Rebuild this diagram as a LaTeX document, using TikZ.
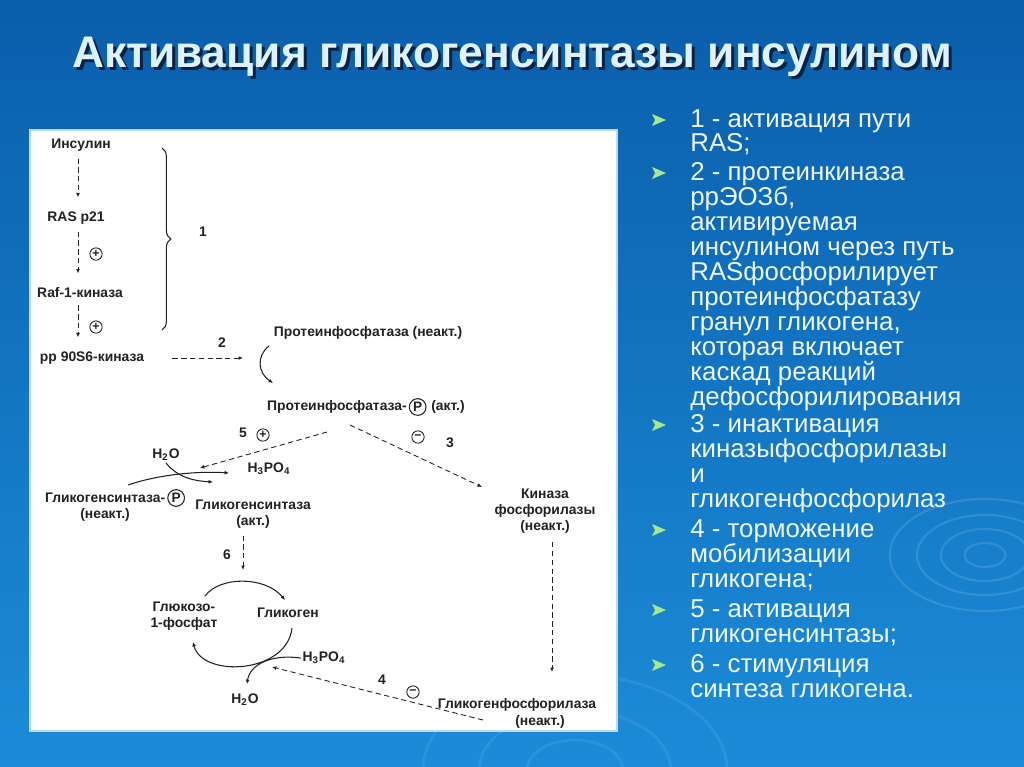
\documentclass[tikz,border=0pt]{standalone}
\usepackage{fontspec}
\setmainfont{Liberation Sans}
\usepackage{tikz}
\usetikzlibrary{arrows.meta, positioning, decorations.pathreplacing}
\definecolor{bgtop}{HTML}{0A5EAC}
\definecolor{bgbottom}{HTML}{1C8CD8}
\definecolor{titlecol}{HTML}{DDF1FF}
\definecolor{titledark}{HTML}{0A2340}
\definecolor{listcol}{HTML}{EEF6FF}
\definecolor{bulletgreen}{HTML}{A6E88A}
\definecolor{inkgray}{HTML}{222222}
\definecolor{paneledge}{HTML}{BFD9EE}

\tikzset{
  lbl/.style={font=\fontsize{7.9}{9}\selectfont\bfseries, text=inkgray, inner sep=1pt, align=center},
  signcirc/.style={circle, draw=inkgray, line width=0.5pt, inner sep=0pt, minimum size=7pt, font=\fontsize{7}{7}\selectfont\bfseries, text=inkgray},
  pcirc/.style={circle, draw=inkgray, line width=0.6pt, inner sep=0pt, minimum size=9.5pt, font=\fontsize{7.8}{8}\selectfont\bfseries, text=inkgray},
  dasharrow/.style={draw=inkgray, line width=0.5pt, dash pattern=on 3pt off 2pt, -{Latex[length=2.5pt,width=2.2pt]}},
  solidarrow/.style={draw=inkgray, line width=0.6pt, -{Latex[length=2.5pt,width=2.2pt]}},
  listitem/.style={anchor=base west, text=listcol, align=left, inner sep=0pt, font=\fontsize{14.7}{14.2}\selectfont},
}

\begin{document}
\begin{tikzpicture}[x=0.02cm, y=-0.02cm]
    % Background
    \shade[top color=bgtop, bottom color=bgbottom] (0,0) rectangle (1024,767);
    \useasboundingbox (0,0) rectangle (1024,767);
    \foreach \r in {12,26,40,56}
        \draw[white, opacity=0.12, line width=1.2pt] (985,555) ellipse ({\r*1.7} and \r);
    \foreach \r in {30,60,95}
        \draw[white, opacity=0.08, line width=1.5pt] (575,770) ellipse ({\r*1.6} and \r);

    % Title
    \node[font=\fontsize{25.2}{28}\selectfont\bfseries, text=titledark] (titleshade) at (515,60) {Активация гликогенсинтазы инсулином};
    \node[font=\fontsize{25.2}{28}\selectfont\bfseries, text=titlecol] (title) at (512,57) {Активация гликогенсинтазы инсулином};

    % Panel
    \draw[fill=white, draw=paneledge, line width=1pt] (30,130) rectangle (617,731);

    % Insulin cascade
    \coordinate (col) at (78,0);
    \node[lbl] (ins) at (81,145) {Инсулин};
    \node[lbl] (ras) at (76,218) {RAS p21};
    \node[lbl] (raf) at (80,293) {Raf-1-киназа};
    \node[lbl] (rsk) at (92,358) {pp 90S6-киназа};
    \draw[dasharrow, shorten <=3pt, shorten >=7pt] (ins.south -| col) -- (ras.north -| col);
    \draw[dasharrow, shorten <=3pt, shorten >=7pt] (ras.south -| col) -- (raf.north -| col);
    \draw[dasharrow, shorten <=3pt, shorten >=7pt] (raf.south -| col) -- (rsk.north -| col);
    \node[signcirc] (plus1) at (96,254) {+};
    \node[signcirc] (plus2) at (96,327) {+};
    \draw[inkgray, line width=0.6pt, decorate, decoration={brace, amplitude=5pt}] (162,148) -- (162,330);
    \node[lbl] (n1) at (203,232) {1};

    % Step 2
    \node[lbl] (n2) at (222,343) {2};
    \coordinate (a2end) at (243,358);
    \draw[dasharrow, shorten <=15pt] (rsk.east) -- (a2end);
    \node[lbl] (ppin) at (368,333) {Протеинфосфатаза (неакт.)};
    \node[lbl, anchor=west] (ppa) at (265,407) {Протеинфосфатаза-};
    \node[pcirc, right=0pt of ppa] (ppap) {P};
    \node[lbl, right=1.5pt of ppap] (ppaa) {(акт.)};
    \coordinate (c2s) at (269,346);
    \coordinate (c2e) at (273,383);
    \draw[solidarrow] (c2s) .. controls (256,356) and (258,373) .. (c2e);

    % Step 5
    \node[lbl] (n5) at (243,433) {5};
    \node[signcirc] (plus5) at (263,435) {+};
    \node[lbl] (h2o) at (166,455) {H\textsubscript{2}O};
    \node[lbl] (h3po4) at (269,469) {H\textsubscript{3}PO\textsubscript{4}};
    \coordinate (s5) at (327,432);
    \coordinate (e5) at (200,468);
    \draw[dasharrow] (s5) -- (e5);
    \coordinate (w5) at (213,482);
    \draw[solidarrow] (h2o.south) .. controls (178,478) and (195,481) .. (w5);
    \coordinate (g5s) at (128,485);
    \coordinate (g5e) at (229,473);
    \draw[solidarrow] (g5s) .. controls (160,474) and (200,471) .. (g5e);
    \node[lbl, anchor=west] (gsp) at (43,498) {Гликогенсинтаза-};
    \node[pcirc, right=0pt of gsp] (gspp) {P};
    \node[lbl] (gspn) at (105,515) {(неакт.)};
    \node[lbl] (gsa) at (253,514) {Гликогенсинтаза\\(акт.)};

    % Step 6
    \node[lbl] (n6) at (227,555) {6};
    \coordinate (a6e) at (243,570);
    \draw[dasharrow, shorten <=3pt] (gsa.south -| a6e) -- (a6e);
    \node[lbl] (g1p) at (184,616) {Глюкозо-\\1-фосфат};
    \node[lbl] (glyc) at (288,613) {Гликоген};
    \coordinate (t6s) at (205,596);
    \coordinate (t6e) at (285,600);
    \draw[solidarrow] (t6s) .. controls (220,576) and (265,576) .. (t6e);
    \coordinate (b6s) at (292,628);
    \coordinate (b6e) at (193,642);
    \draw[solidarrow] (b6s) .. controls (287,674) and (202,678) .. (b6e);
    \node[lbl] (h3po4b) at (324,658) {H\textsubscript{3}PO\textsubscript{4}};
    \node[lbl] (h2ob) at (245,700) {H\textsubscript{2}O};
    \coordinate (p6e) at (247,684);
    \draw[solidarrow] (h3po4b.west) .. controls (272,654) and (250,664) .. (p6e);

    % Step 3
    \coordinate (s3) at (350,425);
    \coordinate (e3) at (482,487);
    \draw[dasharrow] (s3) -- (e3);
    \node[signcirc] (minus3) at (418,437) {−};
    \node[lbl] (n3) at (450,443) {3};
    \node[lbl] (kin) at (545,511) {Киназа\\фосфорилазы\\(неакт.)};
    \coordinate (a7e) at (552,672);
    \draw[dasharrow, shorten <=4pt] (kin.south -| a7e) -- (a7e);

    % Step 4
    \node[lbl] (gph) at (517,705) {Гликогенфосфорилаза};
    \node[lbl] (gphn) at (540,722) {(неакт.)};
    \coordinate (s4) at (483,720);
    \coordinate (e4) at (272,667);
    \draw[dasharrow] (s4) -- (e4);
    \node[lbl] (n4) at (382,680) {4};
    \node[signcirc] (minus4) at (413,692) {−};

    % Legend (base = last line)
    \foreach \y in {120,173,425,530,610,665}
        \fill[bulletgreen] (652,\y-6) -- (666,\y) -- (652,\y+6) -- (655,\y) -- cycle;
    \node[listitem] (item1) at (690,152) {1 - активация пути\\RAS;};
    \node[listitem] (item2) at (690,405) {2 - протеинкиназа\\ррЭОЗб,\\активируемая\\инсулином через путь\\RASфосфорилирует\\протеинфосфатазу\\гранул гликогена,\\которая включает\\каскад реакций\\дефосфорилирования};
    \node[listitem] (item3) at (690,507) {3 - инактивация\\киназыфосфорилазы\\и\\гликогенфосфорилаз};
    \node[listitem] (item4) at (690,587) {4 - торможение\\мобилизации\\гликогена;};
    \node[listitem] (item5) at (690,642) {5 - активация\\гликогенсинтазы;};
    \node[listitem] (item6) at (690,697) {6 - стимуляция\\синтеза гликогена.};
\end{tikzpicture}
\end{document}
